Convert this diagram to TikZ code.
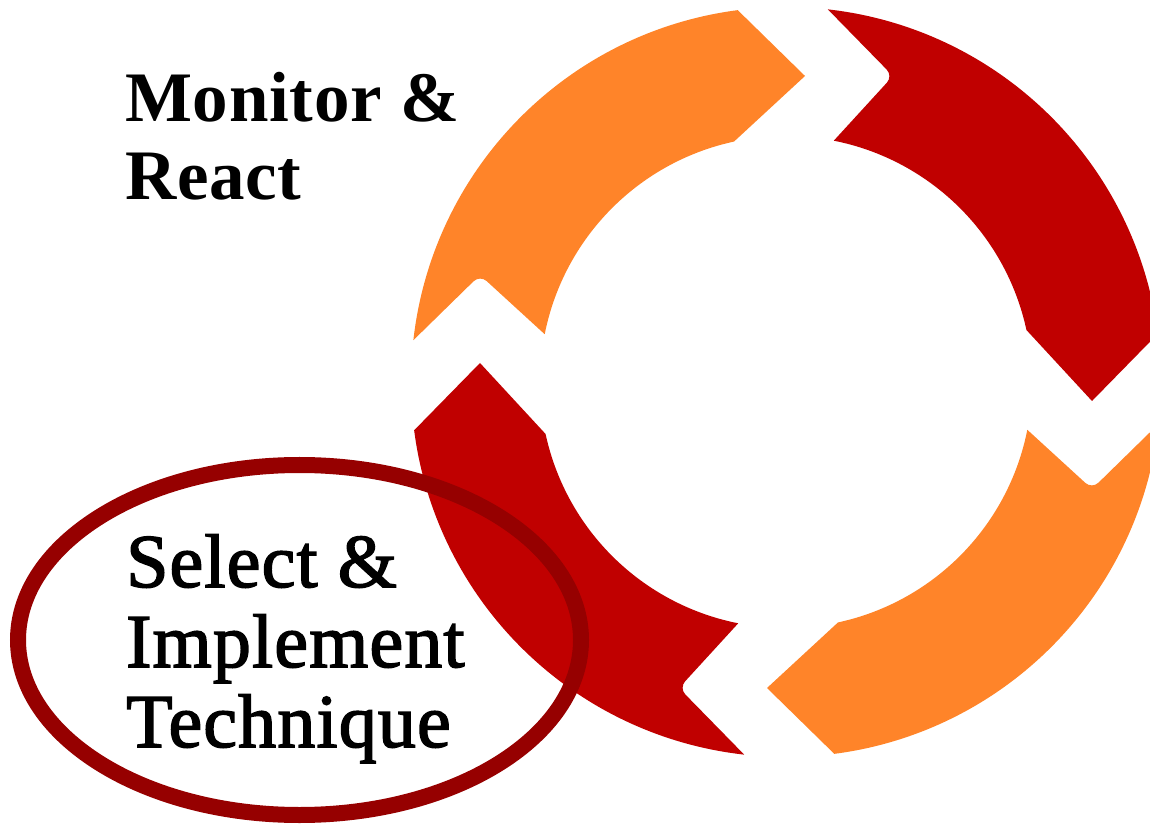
\documentclass[tikz,border=0pt]{standalone}
\usepackage{fontspec}
\setmainfont{Liberation Serif}
\newfontfamily\headfont[LetterSpace=1.0]{Liberation Serif}
\newfontfamily\stepfont[FakeBold=2, LetterSpace=1.5]{Liberation Serif}
\definecolor{ringorange}{HTML}{FF8429}
\definecolor{ringred}{HTML}{C00000}
\definecolor{ovalred}{HTML}{960000}
\tikzset{
  % one quarter of the cycle: notched tail at the left, pointed head at the top
  cyclearrow/.pic={
    \fill[pic actions] (173.6:375pt) [rounded corners=9pt] -- (-306pt,107pt) [sharp corners]
      -- (168.8:246pt) arc[start angle=168.8, end angle=102.2, radius=246pt]
      -- (19pt,306pt) -- (97.4:375pt)
      arc[start angle=97.4, end angle=173.6, radius=375pt] -- cycle;
  },
  boldlabel/.style={anchor=base west, inner sep=0pt, font=\headfont\fontsize{71}{78}\selectfont\bfseries},
  plainlabel/.style={anchor=base west, inner sep=0pt, font=\stepfont\fontsize{76}{80}\selectfont},
}
\begin{document}
\begin{tikzpicture}[x=1pt,y=1pt]
  \useasboundingbox (0pt,0pt) rectangle (1150pt,825pt);
  \clip (0pt,0pt) rectangle (1150pt,825pt);

  % the four arrows of the cycle, turning clockwise
  \pic[fill=ringorange]             at (786pt,443pt) {cyclearrow};
  \pic[fill=ringred, rotate=-90]    at (786pt,443pt) {cyclearrow};
  \pic[fill=ringorange, rotate=180] at (786pt,443pt) {cyclearrow};
  \pic[fill=ringred, rotate=90]     at (786pt,443pt) {cyclearrow};

  % highlight around the current step
  \draw[ovalred, line width=16pt] (299.5pt,185pt) ellipse [x radius=281.5pt, y radius=175pt];

  % step labels
  \node[boldlabel] (monitor) at (125pt,703pt) {Monitor \&};
  \node[boldlabel] (react)   at (125pt,625pt) {React};
  \node[plainlabel] (select)    at (126pt,238pt) {Select \&};
  \node[plainlabel] (implement) at (126pt,158pt) {Implement};
  \node[plainlabel] (technique) at (126pt,78pt)  {Technique};
\end{tikzpicture}
\end{document}
